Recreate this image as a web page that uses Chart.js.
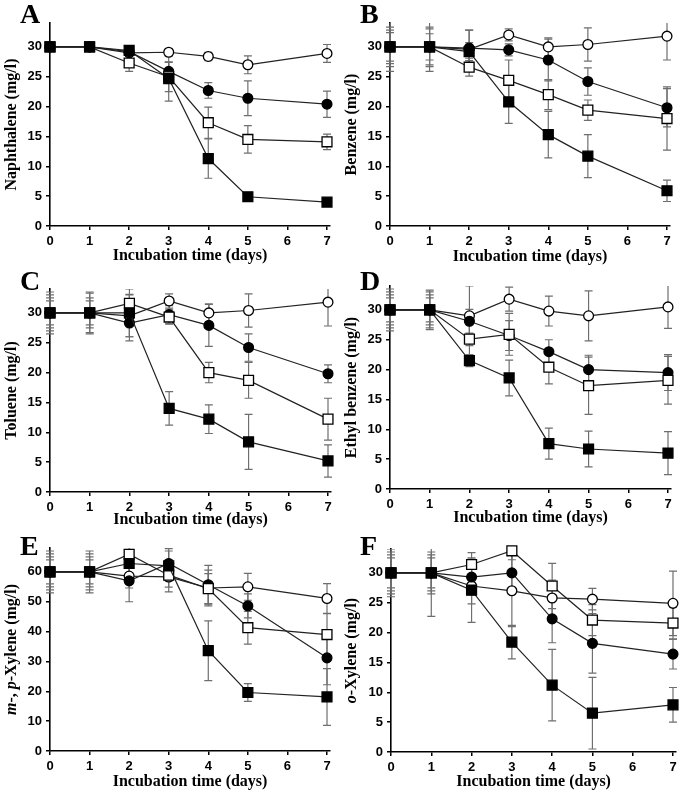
<!DOCTYPE html>
<html>
<head>
<meta charset="utf-8">
<script src="https://cdn.jsdelivr.net/npm/chart.js@4"></script>
<style>
    body { margin: 0; background: #fff; }
    #wrap { position: relative; width: 685px; height: 800px; overflow: hidden; }
    #wrap canvas { position: absolute; }
</style>
</head>
<body>
<div id="wrap">
    <canvas id="cA"></canvas>
    <canvas id="cB"></canvas>
    <canvas id="cC"></canvas>
    <canvas id="cD"></canvas>
    <canvas id="cE"></canvas>
    <canvas id="cF"></canvas>
</div>
<script>
// incubation days sampled (no day 6)
const days = [0, 1, 2, 3, 4, 5, 7];
const dayTicks = [0, 1, 2, 3, 4, 5, 6, 7];
const concTicks = [0, 5, 10, 15, 20, 25, 30];
const xyleneTicks = [0, 10, 20, 30, 40, 50, 60];

// series order in every panel: open circle, filled circle, open square, filled square
const seriesNames = ["Open circle", "Filled circle", "Open square", "Filled square"];

const naphthaleneMeans = [
    [30, 30, 29.0, 29.1, 28.4, 27.0, 28.9],
    [30, 30, 29.2, 25.9, 22.7, 21.4, 20.4],
    [30, 30, 27.3, 25.0, 17.3, 14.5, 14.1],
    [30, 30, 29.4, 24.7, 11.3, 4.9, 4.0],
];
const naphthaleneErrors = [
    [0.4, 0.4, 0.5, 0.5, 0.7, 1.5, 1.5],
    [0.5, 0.6, 0.5, 1.5, 1.3, 2.9, 2.2],
    [0.5, 0.5, 1.4, 2.5, 2.6, 2.3, 1.3],
    [0.5, 0.5, 0.5, 3.8, 3.3, 0.6, 0.4],
];

const benzeneMeans = [
    [30, 30, 29.6, 32.0, 30.0, 30.4, 31.8],
    [30, 30, 29.8, 29.5, 27.8, 24.2, 19.8],
    [30, 30, 26.6, 24.4, 22.0, 19.4, 18.0],
    [30, 30, 29.2, 20.8, 15.3, 11.7, 5.9],
];
const benzeneErrors = [
    [2.8, 3.0, 3.2, 1.0, 1.5, 2.8, 4.0],
    [3.3, 3.3, 3.0, 1.0, 3.5, 2.3, 3.2],
    [2.4, 2.2, 1.5, 3.4, 2.5, 1.7, 5.3],
    [4.1, 4.1, 1.5, 3.6, 3.9, 3.6, 1.8],
];

const tolueneMeans = [
    [30, 30, 29.5, 32.0, 30.0, 30.4, 31.8],
    [30, 30, 28.3, 29.7, 27.9, 24.2, 19.8],
    [30, 30, 31.6, 29.3, 20.0, 18.7, 12.2],
    [30, 30, 30.0, 14.0, 12.2, 8.4, 5.2],
];
const tolueneErrors = [
    [3.5, 3.3, 3.5, 1.2, 1.5, 2.8, 4.0],
    [3.0, 2.5, 3.0, 1.5, 3.5, 2.3, 1.5],
    [2.0, 3.5, 1.5, 1.2, 1.7, 3.0, 3.5],
    [2.5, 2.0, 4.0, 2.8, 2.4, 4.6, 2.7],
];

const ethylbenzeneMeans = [
    [30, 30, 29.0, 31.8, 29.8, 29.0, 30.5],
    [30, 30, 28.1, 25.7, 23.0, 20.0, 19.5],
    [30, 30, 25.1, 25.9, 20.4, 17.3, 18.2],
    [30, 30, 21.5, 18.6, 7.6, 6.7, 6.0],
];
const ethylbenzeneErrors = [
    [3.5, 3.3, 5.0, 2.0, 2.5, 4.2, 3.6],
    [3.0, 3.0, 2.0, 2.5, 2.0, 2.4, 3.0],
    [2.5, 2.5, 3.0, 3.5, 2.8, 4.8, 4.0],
    [2.0, 2.0, 1.0, 3.0, 2.6, 3.0, 3.6],
];

const mpXyleneMeans = [
    [60, 60, 58.6, 58.3, 54.6, 55.0, 51.1],
    [60, 60, 57.0, 62.8, 55.7, 48.6, 31.2],
    [60, 60, 65.9, 58.9, 54.4, 41.3, 39.0],
    [60, 60, 62.8, 62.0, 33.6, 19.6, 18.1],
];
const mpXyleneErrors = [
    [7.0, 6.0, 4.0, 5.0, 6.0, 4.5, 5.0],
    [6.0, 7.0, 7.0, 5.0, 6.5, 4.0, 9.0],
    [5.0, 5.0, 3.0, 4.0, 5.0, 5.5, 7.0],
    [4.0, 4.0, 3.0, 5.0, 10.0, 3.0, 9.5],
];

const oXyleneMeans = [
    [30, 30, 27.8, 27.0, 25.8, 25.6, 24.9],
    [30, 30, 29.3, 30.0, 22.3, 18.2, 16.4],
    [30, 30, 31.4, 33.7, 27.8, 22.1, 21.6],
    [30, 30, 27.1, 18.4, 11.2, 6.5, 7.9],
];
const oXyleneErrors = [
    [3.5, 3.0, 3.0, 6.0, 3.0, 1.8, 5.4],
    [3.0, 3.5, 3.0, 3.5, 4.0, 5.0, 2.5],
    [2.5, 2.5, 2.0, 1.5, 3.8, 2.6, 2.7],
    [4.0, 7.3, 5.4, 2.8, 6.0, 6.0, 2.9],
];

const fontSerif = "'Liberation Serif', 'Times New Roman', serif";
const fontSans = "'Liberation Sans', Arial, sans-serif";

// marker look per series
const markerStyles = [
    { pointStyle: "circle", radius: 4.9, fill: "#fff" },
    { pointStyle: "circle", radius: 4.9, fill: "#000" },
    { pointStyle: "rect", radius: 7.0, fill: "#fff" },
    { pointStyle: "rect", radius: 7.0, fill: "#000" },
];

// gray error bars with caps, drawn under the markers
const errorBars = {
    id: "errorBars",
    beforeDatasetsDraw(chart) {
        const { ctx, chartArea, scales } = chart;
        ctx.save();
        ctx.beginPath();
        ctx.rect(chartArea.left - 10, chartArea.top, chartArea.width + 20, chartArea.height);
        ctx.clip();
        ctx.strokeStyle = "#6e6e6e";
        ctx.lineWidth = 1.2;
        chart.data.datasets.forEach((ds) => {
            ds.data.forEach((pt, i) => {
                const e = ds.errors[i];
                if (!e) return;
                const px = scales.x.getPixelForValue(pt.x);
                const top = scales.y.getPixelForValue(pt.y + e);
                const bot = scales.y.getPixelForValue(pt.y - e);
                ctx.beginPath();
                ctx.moveTo(px, top);
                ctx.lineTo(px, bot);
                ctx.moveTo(px - 4, top);
                ctx.lineTo(px + 4, top);
                ctx.moveTo(px - 4, bot);
                ctx.lineTo(px + 4, bot);
                ctx.stroke();
            });
        });
        ctx.restore();
    },
};

// panel letter + rotated y title (some parts in italic)
const panelText = {
    id: "panelText",
    afterDraw(chart, args, opts) {
        const { ctx, chartArea } = chart;
        ctx.save();
        ctx.fillStyle = "#000";
        ctx.textBaseline = "top";
        ctx.font = `bold 28px ${fontSerif}`;
        ctx.fillText(opts.letter, opts.letterX, opts.letterY);

        const fontFor = (it) => `${it ? "italic " : ""}bold 16px ${fontSerif}`;
        let total = 0;
        opts.yTitle.forEach(([txt, it]) => {
            ctx.font = fontFor(it);
            total += ctx.measureText(txt).width;
        });
        ctx.translate(opts.yTitleX, (chartArea.top + chartArea.bottom) / 2);
        ctx.rotate(-Math.PI / 2);
        ctx.textBaseline = "middle";
        let x = -total / 2;
        opts.yTitle.forEach(([txt, it]) => {
            ctx.font = fontFor(it);
            ctx.fillText(txt, x, 0);
            x += ctx.measureText(txt).width;
        });
        ctx.restore();
    },
};

const panels = [
    { id: "cA", letter: "A", means: naphthaleneMeans, errors: naphthaleneErrors, yTicks: concTicks, yMax: 34,
      yTitle: [["Naphthalene (mg/l)", false]],
      left: 0, top: 0, width: 342, x0: 50, x7: 327, areaTop: 23, y0: 226, titleY: 256, letterY: 2 },
    { id: "cB", letter: "B", means: benzeneMeans, errors: benzeneErrors, yTicks: concTicks, yMax: 34,
      yTitle: [["Benzene (mg/l)", false]],
      left: 340, top: 0, width: 345, x0: 390, x7: 667, areaTop: 23, y0: 226, titleY: 257, letterY: 2 },
    { id: "cC", letter: "C", means: tolueneMeans, errors: tolueneErrors, yTicks: concTicks, yMax: 34,
      yTitle: [["Toluene (mg/l)", false]],
      left: 0, top: 262, width: 342, x0: 50, x7: 328, areaTop: 289, y0: 492, titleY: 520, letterY: 7 },
    { id: "cD", letter: "D", means: ethylbenzeneMeans, errors: ethylbenzeneErrors, yTicks: concTicks, yMax: 34,
      yTitle: [["Ethyl benzene (mg/l)", false]],
      left: 340, top: 262, width: 345, x0: 390, x7: 668, areaTop: 286, y0: 489, titleY: 518, letterY: 7 },
    { id: "cE", letter: "E", means: mpXyleneMeans, errors: mpXyleneErrors, yTicks: xyleneTicks, yMax: 68,
      yTitle: [["m", true], ["-, ", false], ["p", true], ["-Xylene (mg/l)", false]],
      left: 0, top: 525, width: 342, x0: 50, x7: 327, areaTop: 548, y0: 751, titleY: 782, letterY: 9 },
    { id: "cF", letter: "F", means: oXyleneMeans, errors: oXyleneErrors, yTicks: concTicks, yMax: 34,
      yTitle: [["o", true], ["-Xylene (mg/l)", false]],
      left: 340, top: 525, width: 345, x0: 391, x7: 673, areaTop: 549, y0: 752, titleY: 782, letterY: 9 },
];

const xMax = 7.08;

const buildPanel = (p) => {
    const canvas = document.getElementById(p.id);
    const h = p.titleY + 9 - p.top;
    canvas.width = p.width;
    canvas.height = h;
    canvas.style.left = p.left + "px";
    canvas.style.top = p.top + "px";

    const right = p.x0 + ((p.x7 - p.x0) * xMax) / 7;

    const datasets = p.means.map((vals, s) => ({
        label: seriesNames[s],
        data: days.map((d, i) => ({ x: d, y: vals[i] })),
        errors: p.errors[s],
        showLine: true,
        borderColor: "#222",
        borderWidth: 1.2,
        pointStyle: markerStyles[s].pointStyle,
        pointRadius: markerStyles[s].radius,
        pointBackgroundColor: markerStyles[s].fill,
        pointBorderColor: "#000",
        pointBorderWidth: 1.3,
        clip: false,
        order: 3 - s,
    }));

    new Chart(canvas.getContext("2d"), {
        type: "scatter",
        data: { datasets },
        plugins: [errorBars, panelText],
        options: {
            responsive: false,
            animation: false,
            events: [],
            layout: {
                padding: { left: 0, top: p.areaTop - p.top, right: p.left + p.width - right, bottom: 0 },
            },
            plugins: {
                legend: { display: false },
                tooltip: { enabled: false },
                panelText: { letter: p.letter, letterX: 20, letterY: p.letterY, yTitle: p.yTitle, yTitleX: 12 },
            },
            scales: {
                x: {
                    type: "linear",
                    min: 0,
                    max: xMax,
                    afterBuildTicks: (s) => { s.ticks = dayTicks.map((v) => ({ value: v })); },
                    afterFit: (s) => { s.height = h - (p.y0 - p.top); },
                    border: { color: "#000", width: 1.6 },
                    grid: { drawOnChartArea: false, tickLength: 4, color: "#000", lineWidth: 1.5 },
                    ticks: { color: "#000", padding: 4, maxRotation: 0, autoSkip: false,
                             font: { family: fontSans, weight: "bold", size: 13 } },
                    title: { display: true, text: "Incubation time (days)", color: "#000",
                             font: { family: fontSerif, weight: "bold", size: 16 }, padding: { top: 0, bottom: 0 } },
                },
                y: {
                    min: 0,
                    max: p.yMax,
                    afterBuildTicks: (s) => { s.ticks = p.yTicks.map((v) => ({ value: v })); },
                    afterFit: (s) => { s.width = p.x0 - p.left; },
                    border: { color: "#000", width: 1.6 },
                    grid: { drawOnChartArea: false, tickLength: 4, color: "#000", lineWidth: 1.5 },
                    ticks: { color: "#000", padding: 4,
                             font: { family: fontSans, weight: "bold", size: 13 } },
                },
            },
        },
    });
};

panels.forEach(buildPanel);
</script>
</body>
</html>
